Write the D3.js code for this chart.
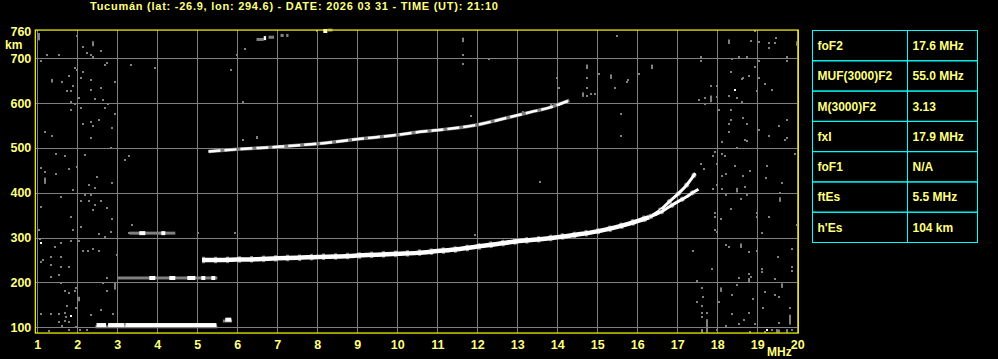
<!DOCTYPE html>
<html><head><meta charset="utf-8">
<script src="https://cdn.jsdelivr.net/npm/d3@7"></script>
<style>body{margin:0;background:#000;} svg{display:block;}</style>
</head><body>
<svg id="c" width="998" height="359"></svg>
<script>
// ---------- data ----------
const title = "Tucumán (lat: -26.9, lon: 294.6) - DATE: 2026 03 31 - TIME (UT): 21:10";
const freqTicks = d3.range(1, 21);
const heightTicks = [100, 200, 300, 400, 500, 600, 700, 760];
const gridHeights = [100, 200, 300, 400, 500, 600, 700];
const paramNames = ["foF2", "MUF(3000)F2", "M(3000)F2", "fxI", "foF1", "ftEs", "h'Es"];
const paramValues = ["17.6 MHz", "55.0 MHz", "3.13", "17.9 MHz", "N/A", "5.5 MHz", "104 km"];

// F2 first-hop trace (common part), then the two split branches
const f2Freq   = [5.12, 5.5, 6, 6.5, 7, 7.5, 8, 8.5, 9, 9.5, 10, 10.5, 11, 11.5, 12, 12.5, 13, 13.5, 14, 14.5, 15, 15.5, 16, 16.3];
const f2Height = [250, 250, 251, 252, 254, 255, 257, 258, 260, 262, 264, 266, 270, 274, 280, 286, 292, 296, 301, 307, 314, 324, 337, 346];
const branchAFreq   = [16.3, 16.57, 16.75, 17.07, 17.23, 17.36, 17.45];
const branchAHeight = [346, 361, 376, 402, 417, 432, 444];
const branchBFreq   = [16.3, 16.57, 16.75, 17.07, 17.23, 17.36, 17.53];
const branchBHeight = [346, 356, 366, 383, 391, 399, 408];
// F2 second-hop trace
const f2HopFreq   = [5.28, 6.0, 7.07, 8.07, 9.15, 9.99, 10.57, 11.24, 12.07, 12.78, 13.33, 13.8, 14.3];
const f2HopHeight = [492, 497, 503, 510, 521, 529, 536, 542, 553, 568, 580, 590, 606];

// Es echoes and small fragments: [f0, f1, height]
const whiteFragments = [[2.48,2.72,105],[2.77,3.18,105],[3.2,5.48,105],[5.7,5.85,117],
  [6.66,6.72,745],[8.15,8.25,761],[3.8,3.95,210],[4.3,4.45,210],[4.75,4.95,210],[5.1,5.2,210],[5.35,5.45,210],
  [3.55,3.7,310],[4.1,4.2,310]];
const grayFragments = [[2.45,5.5,101],[3.0,5.5,210],[3.3,4.45,310],[5.64,5.87,114],
  [6.48,6.66,742],[6.78,6.92,747],[7.08,7.16,751],[8.26,8.38,763],[7.22,7.28,751]];

// scattered noise pixels [f, h]
const noisePoints = [
 [1.03,754],[1.03,745],[1.98,749],[2.13,726],[2.23,712],[2.34,708],[2.58,717],[2.40,704],[1.23,708],[1.53,708],[1.08,693],[2.73,689],[2.69,684],[1.94,678],[1.98,674],[2.13,670],[1.78,661],[1.63,648],[2.09,655],[2.34,652],[2.93,648],[1.90,639],[2.58,633],[2.34,629],[1.73,626],[1.84,626],[2.03,611],[2.44,609],[2.65,607],[1.84,603],[1.93,598],[2.78,597],[2.09,589],[1.84,585],[2.69,589],[2.93,576],[2.55,563],[2.13,553],[2.34,559],[2.38,550],[2.88,545],[1.19,536],[1.38,527],[2.34,523],[2.84,501],[1.48,487],[1.69,483],[2.19,484],[3.30,483],[3.19,474],[1.08,455],[1.19,447],[1.48,442],[1.78,452],[1.98,457],[2.48,436],[2.29,418],[2.44,411],[2.88,422],[1.90,406],[1.59,391],[2.19,394],[2.34,396],[2.09,382],[2.29,381],[2.44,373],[2.59,382],[2.40,362],[2.73,366],[1.09,369],[1.84,347],[2.88,342],[3.38,328],[2.09,324],[1.04,316],[1.88,316],[2.84,313],[3.28,310],[2.55,307],[2.69,302],[1.07,298],[1.59,289],[1.84,293],[2.03,293],[1.44,278],[2.15,271],[2.28,271],[2.40,274],[2.55,271],[2.98,262],[1.34,256],[1.59,256],[1.09,245],[1.15,249],[1.34,240],[1.59,235],[1.78,235],[1.53,217],[1.34,212],[2.73,209],[2.65,198],[1.59,198],[1.97,188],[1.68,182],[1.78,176],[1.93,182],[2.73,182],[1.73,148],[1.97,144],[1.09,130],[1.34,130],[1.53,130],[1.68,133],[1.72,124],[2.34,127],[2.59,139],[2.90,130],[1.53,111],[1.68,115],[1.78,111],[1.97,101],[1.61,104],[1.28,92],[1.78,94],[2.07,94],[2.23,94],
 [18.94,762],[18.84,739],[19.04,737],[19.29,734],[19.44,734],[19.47,745],[19.29,722],[17.59,704],[17.59,693],[18.38,698],[18.55,704],[18.73,702],[19.03,693],[19.73,704],[19.73,693],[18.34,670],[18.61,654],[18.63,655],[18.79,661],[18.94,680],[19.03,656],[19.18,643],[19.38,630],[17.84,639],[17.98,639],[17.69,611],[17.54,608],[17.69,598],[17.98,613],[18.30,617],[18.48,611],[18.61,602],[18.98,628],[18.05,585],[18.34,585],[18.63,567],[18.34,562],[18.73,553],[18.29,553],[19.03,541],[19.54,550],[19.73,563],[18.30,536],[18.69,518],[18.73,515],[18.13,514],[19.29,527],[19.69,518],[19.75,522],[18.48,500],[17.94,490],[17.90,483],[18.13,487],[18.19,483],[19.94,487],[17.59,464],[17.98,464],[17.68,452],[18.44,459],[19.23,460],[18.13,438],[18.23,442],[18.63,438],[19.22,433],[18.82,449],[19.63,422],[17.98,418],[18.69,414],[17.90,408],[18.13,408],[18.23,396],[18.73,396],[18.59,386],[19.58,399],[18.34,364],[17.94,355],[17.94,347],[18.09,342],[18.98,354],[18.98,347],[19.29,347],[17.94,316],[17.98,312],[19.13,310],[19.98,328],[18.23,284],[18.30,280],[18.79,267],[18.98,271],[19.51,256],[19.88,275],[17.38,271],[17.88,231],[19.13,231],[19.13,223],[19.88,235],[19.88,226],[18.79,220],[18.84,213],[18.53,211],[19.44,208],[17.48,204],[18.48,194],[17.63,187],[18.38,173],[17.64,168],[19.19,178],[19.44,173],[19.55,168],[18.88,163],[17.48,157],[18.03,157],[17.63,148],[19.15,144],[19.82,144],[17.73,133],[17.63,133],[17.63,124],[18.38,130],[18.79,131],[18.68,116],[18.55,107],[18.94,107],[19.53,109],[17.63,94],[17.98,94],[18.22,102],[18.83,90],[19.19,90],[19.36,94],[19.86,94],
 [6.20,721],[5.99,708],[3.33,684],[3.94,678],[5.83,675],[6.14,603],[6.50,522],[11.64,708],[11.64,688],[12.29,698],[14.0,656],[14.05,634],[15.04,666],[15.49,749],[14.74,656],[14.74,634],[14.73,617],[14.84,620],[14.94,620],[15.44,634],[15.74,648],[15.78,652],[16.03,666],[17.54,608],[15.60,576],[15.60,527],[11.84,572],[13.15,581],[6.13,518],[6.48,524],[5.03,311],[5.94,311],[11.94,306],[13.57,424],[7.99,761]
];
// vertical noise streaks [f, h0, h1]
const noiseStreaks = [[2.38,727,738],[1.38,646,654],[1.18,420,434],[2.94,184,200],[2.03,158,168],[1.03,740,756],
 [18.30,732,742],[19.98,728,738],[17.84,602,617],[18.48,401,411],[19.58,380,390],[18.59,277,287],[18.78,200,210],[19.63,188,198],[18.09,179,189],[19.82,106,128],[17.73,88,118],[17.61,88,96],[19.5,88,96],[19.75,88,96],[19.55,88,95],
 [11.64,736,746],[14.74,676,686],[15.34,654,664],[14.63,614,624],[16.38,676,686],[13.84,588,598]];
const whiteDots = [[1.09,289],[1.84,126],[18.44,629],[19.23,94]];

// ---------- drawing ----------
const svg = d3.select("#c");
const txt = "#ffff80", gridC = "#808080";
const font = "'Liberation Sans', Arial, sans-serif";
svg.append("rect").attr("width", 998).attr("height", 359).attr("fill", "#000");

const x = d3.scaleLinear().domain([1, 20]).range([37.3, 797.3]);
const y = d3.scaleLinear().domain([100, 700]).range([327.3, 58.3]);
const fLo = 0.95, fHi = 20.025, hLo = 87.2, hHi = 763;

svg.append("text").attr("x", 90).attr("y", 10).attr("text-anchor", "start")
  .attr("fill", txt).attr("font-family", font).attr("font-weight", "bold").attr("font-size", 11)
  .attr("textLength", 408).attr("lengthAdjust", "spacing")
  .text(title);

const plot = svg.append("g");
// grid
plot.selectAll("line.v").data(freqTicks).join("line").attr("class", "v")
  .attr("x1", d => Math.round(x(d)) + 0.5).attr("x2", d => Math.round(x(d)) + 0.5)
  .attr("y1", y(hHi)).attr("y2", y(hLo)).attr("stroke", gridC).attr("stroke-width", 1);
plot.selectAll("line.h").data(gridHeights).join("line").attr("class", "h")
  .attr("y1", d => Math.round(y(d)) + 0.5).attr("y2", d => Math.round(y(d)) + 0.5)
  .attr("x1", x(fLo)).attr("x2", x(fHi)).attr("stroke", gridC).attr("stroke-width", 1);

// noise
plot.selectAll("rect.n").data(noisePoints).join("rect").attr("class", "n")
  .attr("x", d => Math.round(x(d[0])) - 1).attr("y", d => Math.round(y(d[1])) - 1)
  .attr("width", 2).attr("height", 2).attr("fill", gridC);
plot.selectAll("rect.s").data(noiseStreaks).join("rect").attr("class", "s")
  .attr("x", d => Math.round(x(d[0])) - 1).attr("y", d => y(d[2]))
  .attr("width", 2).attr("height", d => y(d[1]) - y(d[2])).attr("fill", gridC);

// fragments
plot.selectAll("rect.g").data(grayFragments).join("rect").attr("class", "g")
  .attr("x", d => x(d[0])).attr("width", d => x(d[1]) - x(d[0]))
  .attr("y", d => y(d[2]) - 1.5).attr("height", 3).attr("fill", gridC);
plot.selectAll("rect.w").data(whiteFragments).join("rect").attr("class", "w")
  .attr("x", d => x(d[0])).attr("width", d => x(d[1]) - x(d[0]))
  .attr("y", d => y(d[2]) - 2).attr("height", 4).attr("fill", "#fff");

// traces
const line = d3.line().x(d => x(d[0])).y(d => y(d[1])).curve(d3.curveMonotoneX);
const zip = (a, b) => a.map((v, i) => [v, b[i]]);
const traces = [
  {pts: zip(f2Freq, f2Height), w: 4.5},
  {pts: zip(branchAFreq, branchAHeight), w: 3},
  {pts: zip(branchBFreq, branchBHeight), w: 3},
];
traces.forEach(t => {
  plot.append("path").attr("d", line(t.pts)).attr("fill", "none")
    .attr("stroke", gridC).attr("stroke-width", t.w + 2).attr("stroke-dasharray", "3,9");
  plot.append("path").attr("d", line(t.pts)).attr("fill", "none")
    .attr("stroke", "#fff").attr("stroke-width", t.w);
});
const hop = zip(f2HopFreq, f2HopHeight);
plot.append("path").attr("d", line(hop)).attr("fill", "none")
  .attr("stroke", gridC).attr("stroke-width", 3.5);
plot.append("path").attr("d", line(hop)).attr("fill", "none")
  .attr("stroke", "#fff").attr("stroke-width", 2.5).attr("stroke-dasharray", "12,4");

plot.selectAll("rect.wd").data(whiteDots).join("rect").attr("class", "wd")
  .attr("x", d => Math.round(x(d[0])) - 1).attr("y", d => Math.round(y(d[1])) - 1)
  .attr("width", 2).attr("height", 2).attr("fill", "#fff");

// frame
svg.append("rect").attr("x", x(fLo)).attr("y", y(hHi))
  .attr("width", x(fHi) - x(fLo)).attr("height", y(hLo) - y(hHi))
  .attr("fill", "none").attr("stroke", "#ffff00").attr("stroke-width", 1.2);

// axes
const yAxis = d3.axisLeft(y).tickValues(heightTicks).tickSize(0).tickPadding(4).tickFormat(d3.format("d"));
const gy = svg.append("g").attr("transform", `translate(${x(fLo)},0)`).call(yAxis);
const xAxis = d3.axisBottom(x).tickValues(freqTicks).tickSize(0).tickPadding(7).tickFormat(d3.format("d"));
const gx = svg.append("g").attr("transform", `translate(0,${y(hLo)})`).call(xAxis);
[gx, gy].forEach(g => {
  g.select(".domain").remove();
  g.selectAll("text").attr("fill", txt).attr("font-family", font)
    .attr("font-weight", "bold").attr("font-size", 12.5);
});
svg.append("text").attr("x", 5).attr("y", 49).attr("fill", txt).attr("font-family", font)
  .attr("font-weight", "bold").attr("font-size", 12).text("km");
svg.append("text").attr("x", 767).attr("y", 356).attr("fill", txt).attr("font-family", font)
  .attr("font-weight", "bold").attr("font-size", 12).text("MHz");

// parameter table
const tx0 = 812.5, tx1 = 907.5, tx2 = 977.5;
const rows = d3.scaleBand().domain(paramNames).range([30.5, 242.5]);
const tbl = svg.append("g");
tbl.selectAll("rect").data(paramNames).join("rect")
  .attr("x", tx0).attr("y", d => rows(d)).attr("width", tx2 - tx0).attr("height", rows.bandwidth())
  .attr("fill", "none").attr("stroke", "#00ffff").attr("stroke-width", 1);
tbl.append("line").attr("x1", tx1).attr("x2", tx1).attr("y1", 30.5).attr("y2", 242.5)
  .attr("stroke", "#00ffff").attr("stroke-width", 1);
tbl.selectAll("text.n").data(paramNames).join("text").attr("class", "n")
  .attr("x", 817.5).attr("y", d => rows(d) + rows.bandwidth() / 2 + 4.3).text(d => d);
tbl.selectAll("text.v").data(paramValues).join("text").attr("class", "v")
  .attr("x", 912.5).attr("y", (d, i) => rows(paramNames[i]) + rows.bandwidth() / 2 + 4.3).text(d => d);
tbl.selectAll("text").attr("fill", txt).attr("font-family", font)
  .attr("font-weight", "bold").attr("font-size", 12);
</script>
</body></html>
